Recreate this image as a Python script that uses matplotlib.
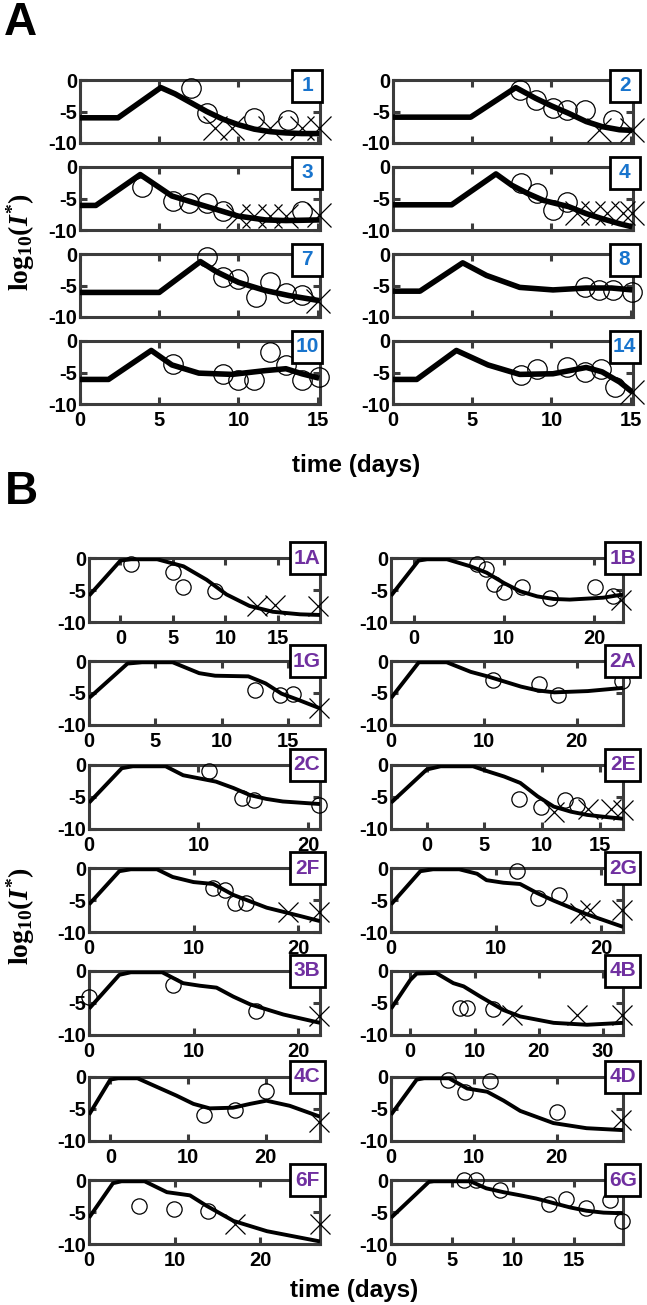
import matplotlib
matplotlib.use("Agg")
import matplotlib.pyplot as plt
from matplotlib.patches import Rectangle

plt.rcParams['font.family'] = 'Liberation Sans'
plt.rcParams['font.weight'] = 'bold'
plt.rcParams['axes.unicode_minus'] = False
plt.rcParams['mathtext.fontset'] = 'custom'
plt.rcParams['mathtext.rm'] = 'Liberation Serif:bold'
plt.rcParams['mathtext.bf'] = 'Liberation Serif:bold'
plt.rcParams['mathtext.it'] = 'Liberation Serif:bold:italic'

W, H = 647, 1305
BLUE = '#1874cd'
PURPLE = '#7030a0'
FRAME = '#3c3c3c'

# ---------------- panel A data (t in days, log10 I*) ----------------
a1_t = [0, 2.4, 5.1, 6, 7, 8, 9, 10, 11, 12, 13, 14, 15.1]
a1_y = [-6, -6, -1.2, -2.2, -3.6, -5.0, -6.2, -7.1, -7.8, -8.2, -8.4, -8.5, -8.5]
a1_ot = [7.0, 8.0, 11.0, 13.1]
a1_oy = [-1.2, -5.3, -6.0, -6.3]
a1_xt = [8.5, 9.6, 12.0, 14.0, 15.1]
a1_xy = [-7.6, -7.6, -7.6, -7.6, -7.6]

a2_t = [0, 4.9, 7.75, 9, 10, 11.1, 12.2, 13.2, 14.3, 15.1]
a2_y = [-5.9, -5.9, -1.2, -2.9, -4.1, -5.3, -6.6, -7.4, -7.9, -8.0]
a2_ot = [8.0, 9.0, 10.1, 11.0, 12.1, 13.9]
a2_oy = [-1.6, -3.2, -4.5, -4.7, -4.7, -6.3]
a2_xt = [13.0, 15.1]
a2_xy = [-7.9, -7.9]

a3_t = [0, 1.0, 3.8, 5.8, 7.9, 10, 11.7, 13, 15.1]
a3_y = [-6.1, -6.1, -1.2, -4.6, -6.2, -7.8, -8.4, -8.5, -8.4]
a3_ot = [3.9, 5.9, 6.9, 8.0, 9.0, 14.0]
a3_oy = [-3.2, -5.4, -5.7, -5.7, -7.0, -7.0]
a3_xt = [10, 11, 12, 13, 15.1]
a3_xy = [-7.8, -7.8, -7.8, -7.8, -7.6]

a4_t = [0, 3.7, 6.5, 7.5, 8.5, 9.5, 11.1, 12.2, 13.2, 14.3, 15.1]
a4_y = [-6.0, -6.0, -1.1, -2.9, -4.2, -5.3, -6.3, -7.4, -8.2, -9.0, -9.5]
a4_ot = [8.1, 9.1, 10.1, 11.0]
a4_oy = [-2.6, -4.2, -6.8, -5.5]
a4_xt = [11.6, 12.6, 13.5, 14.5, 15.1]
a4_xy = [-7.3, -7.3, -7.3, -7.3, -7.3]

a7_t = [0, 5.0, 7.6, 8.6, 10, 11.7, 13.2, 15.1]
a7_y = [-6.1, -6.1, -1.2, -2.8, -4.5, -5.8, -6.6, -7.4]
a7_ot = [8.0, 9.0, 10.0, 11.1, 12.0, 13.0, 14.0]
a7_oy = [-0.4, -3.7, -3.9, -6.8, -4.5, -6.2, -6.5]
a7_xt = [15.0]
a7_xy = [-7.4]

a8_t = [0, 1.7, 4.4, 5.9, 8, 10.1, 12.2, 13.8, 15.1]
a8_y = [-5.9, -5.9, -1.4, -3.4, -5.3, -5.7, -5.4, -5.4, -5.7]
a8_ot = [12.1, 13.0, 13.9, 15.1]
a8_oy = [-5.3, -5.7, -5.7, -6.1]
a8_xt = []
a8_xy = []

a10_t = [0, 1.8, 4.5, 5.8, 7.5, 9.6, 11.7, 13, 14, 15.1]
a10_y = [-6.1, -6.1, -1.5, -3.8, -5.1, -5.3, -4.7, -4.4, -5.2, -5.9]
a10_ot = [5.9, 9.0, 10.0, 11.0, 12.0, 13.0, 14.0, 15.1]
a10_oy = [-3.6, -5.3, -6.2, -6.2, -1.7, -3.8, -6.2, -5.7]
a10_xt = []
a10_xy = []

a14_t = [0, 1.5, 4.0, 6, 8, 10.1, 12.2, 13.2, 14.3, 15.1]
a14_y = [-6.1, -6.1, -1.5, -3.8, -5.3, -5.2, -4.2, -4.9, -6.5, -8.1]
a14_ot = [8.1, 9.1, 11.0, 12.1, 13.1, 14.0]
a14_oy = [-5.4, -4.4, -4.1, -4.9, -4.4, -7.3]
a14_xt = [15.1]
a14_xy = [-8.1]

# ---------------- panel B data ----------------
b1a_t = [-3, 0, 1, 3.5, 6, 8.2, 10.1, 12.3, 14.5, 17.1, 19]
b1a_y = [-5.9, -0.4, -0.2, -0.2, -1.3, -3.4, -5.7, -7.5, -8.4, -8.8, -8.9]
b1a_ot = [1.0, 5.0, 6.0, 9.0]
b1a_oy = [-0.9, -2.2, -4.6, -5.1]
b1a_xt = [13.0, 14.7, 18.8]
b1a_xy = [-7.5, -7.3, -7.5]

b1b_t = [-2.5, 0.55, 1.5, 3.7, 6.3, 8.1, 10, 11.8, 13.7, 15.5, 17.3, 21, 23.2]
b1b_y = [-5.9, -0.4, -0.2, -0.2, -1.3, -2.3, -3.9, -5.2, -6.0, -6.4, -6.5, -6.2, -5.7]
b1b_ot = [7.0, 8.0, 8.9, 10.0, 12.0, 15.1, 20.1, 22.1]
b1b_oy = [-1.0, -1.7, -4.1, -5.3, -4.5, -6.2, -4.5, -5.9]
b1b_xt = [23.0]
b1b_xy = [-6.5]

b1g_t = [0, 2.9, 4, 6.3, 8.3, 9.5, 12, 13.3, 14.5, 15.8, 17.4]
b1g_y = [-5.8, -0.4, -0.2, -0.2, -1.9, -2.3, -2.4, -3.5, -5.1, -6.1, -7.4]
b1g_ot = [12.5, 14.4, 15.4]
b1g_oy = [-4.5, -5.3, -5.1]
b1g_xt = [17.3]
b1g_xy = [-7.4]

b2a_t = [0, 3.0, 6.0, 8.6, 10.4, 12.2, 14, 15.8, 17.6, 21.2, 25]
b2a_y = [-5.8, -0.2, -0.2, -1.7, -2.4, -3.2, -4.0, -4.6, -4.9, -4.7, -4.2]
b2a_ot = [11.0, 15.9, 18.0, 24.9]
b2a_oy = [-2.9, -3.6, -5.3, -3.1]
b2a_xt = []
b2a_xy = []

b2c_t = [0, 3.0, 4, 7, 8.6, 10.1, 11.6, 13.2, 14.7, 16.2, 17.7, 21.1]
b2c_y = [-5.9, -0.5, -0.2, -0.2, -1.6, -2.1, -2.6, -3.6, -4.7, -5.3, -5.7, -6.1]
b2c_ot = [11.0, 14.0, 15.1, 21.0]
b2c_oy = [-0.9, -5.2, -5.4, -6.2]
b2c_xt = []
b2c_xy = []

b2e_t = [-3.1, 0, 1.2, 4, 5.3, 6.7, 8.1, 9.6, 11.0, 12.5, 13.9, 15.4, 17.0]
b2e_y = [-5.9, -0.7, -0.2, -0.2, -1.0, -1.8, -2.8, -4.9, -6.5, -7.3, -7.8, -8.1, -8.4]
b2e_ot = [8.0, 9.9, 12.0, 13.0]
b2e_oy = [-5.3, -6.5, -5.4, -6.2]
b2e_xt = [11.0, 14.0, 16.0, 17.0]
b2e_xy = [-7.3, -6.8, -6.8, -7.0]

b2f_t = [0, 2.9, 4, 6.5, 8, 10, 11.9, 13.8, 17, 20.2, 22.1]
b2f_y = [-5.7, -0.5, -0.2, -0.2, -1.4, -2.2, -2.5, -4.2, -6.2, -7.5, -8.3]
b2f_ot = [11.9, 13.0, 14.0, 15.0]
b2f_oy = [-3.2, -3.4, -5.5, -5.5]
b2f_xt = [19.0, 22.0]
b2f_xy = [-6.8, -6.8]

b2g_t = [0, 2.8, 4, 6.5, 8.2, 9.1, 10.7, 12.3, 13.9, 15.5, 18.6, 22.1]
b2g_y = [-5.7, -0.5, -0.2, -0.2, -0.9, -1.9, -2.3, -2.5, -3.9, -5.1, -7.2, -9.2]
b2g_ot = [12.0, 14.0, 16.0]
b2g_oy = [-0.5, -4.7, -4.2]
b2g_xt = [18.0, 19.0, 22.0]
b2g_xy = [-7.0, -6.5, -6.5]

b3b_t = [0, 2.9, 4, 7, 9, 10.6, 12.2, 13.8, 15.4, 18.6, 22.1]
b3b_y = [-5.9, -0.6, -0.2, -0.2, -1.9, -2.3, -2.6, -4.0, -5.2, -6.8, -8.1]
b3b_ot = [0.0, 8.0, 16.0]
b3b_oy = [-4.1, -2.2, -6.2]
b3b_xt = [22.0]
b3b_xy = [-7.1]

b4b_t = [-3, 0, 1, 4, 6.7, 8.3, 10.9, 14.5, 17.1, 22.3, 27.5, 33.1]
b4b_y = [-5.9, -1.4, -0.4, -0.3, -1.9, -2.4, -4.0, -6.1, -7.1, -8.1, -8.4, -8.1]
b4b_ot = [7.8, 8.8, 12.9]
b4b_oy = [-5.8, -5.8, -6.0]
b4b_xt = [15.8, 25.9, 32.9]
b4b_xy = [-6.8, -6.8, -6.8]

b4c_t = [-2.75, 0, 1, 3.5, 5.9, 8.5, 10.7, 12.8, 15.8, 18, 20.1, 23.1, 27]
b4c_y = [-5.9, -0.4, -0.2, -0.2, -1.5, -2.9, -4.2, -4.9, -4.8, -4.2, -3.7, -4.5, -6.2]
b4c_ot = [12.0, 16.0, 20.0]
b4c_oy = [-5.9, -5.1, -2.2]
b4c_xt = [26.9]
b4c_xy = [-7.0]

b4d_t = [0, 3.1, 4, 7, 9.2, 11.6, 13.6, 15.6, 19.6, 23.6, 28]
b4d_y = [-5.9, -0.4, -0.2, -0.2, -1.8, -2.3, -3.7, -5.3, -7.2, -8.0, -8.3]
b4d_ot = [6.9, 8.9, 12.0, 20.0]
b4d_oy = [-0.4, -2.3, -0.6, -5.5]
b4d_xt = [27.8]
b4d_xy = [-6.7]

b6f_t = [0, 2.8, 3.8, 6.5, 9.1, 11.8, 13.7, 16.9, 20.8, 27]
b6f_y = [-5.9, -0.5, -0.2, -0.2, -1.9, -2.4, -4.0, -6.4, -8.0, -9.6]
b6f_ot = [5.9, 9.9, 13.9]
b6f_oy = [-4.1, -4.5, -4.9]
b6f_xt = [17.1, 27.0]
b6f_xy = [-6.9, -6.9]

b6g_t = [0, 3.1, 3.5, 6.5, 7.8, 9.2, 10.6, 11.9, 13.3, 14.7, 16, 17.4, 19]
b6g_y = [-5.9, -0.3, -0.2, -0.2, -1.3, -1.9, -2.4, -2.9, -3.6, -4.3, -4.8, -5.1, -5.2]
b6g_ot = [6.0, 7.0, 8.9, 12.9, 14.3, 16.0, 17.9, 18.9]
b6g_oy = [0.0, 0.0, -1.6, -3.7, -2.9, -4.3, -3.1, -6.4]
b6g_xt = []
b6g_xy = []

yticks = [-10, -5, 0]

fig = plt.figure(figsize=(W / 100, H / 100), dpi=100)


def px_axes(x0, y0, x1, y1):
    return fig.add_axes([x0 / W, 1 - y1 / H, (x1 - x0) / W, (y1 - y0) / H])


def draw_panel(ax, t, y, ot, oy, xt, xy, label, color, xlim, xticks,
               show_xlabels, lw, ms_o, ms_x, box, box_w, box_h):
    ax.plot(ot, oy, 'o', mfc='none', mec='black', ms=ms_o, mew=0.9, clip_on=False, zorder=3)
    ax.plot(xt, xy, 'x', color='black', ms=ms_x, mew=0.9, clip_on=False, zorder=3)
    ax.plot(t, y, '-', color='black', lw=lw, solid_capstyle='butt', zorder=4)
    ax.set_xlim(*xlim)
    ax.set_ylim(-10, 0)
    ax.set_xticks(xticks)
    ax.set_yticks(yticks)
    ax.set_yticklabels([str(v) for v in yticks])
    if not show_xlabels:
        ax.set_xticklabels([])
    for s in ax.spines.values():
        s.set_color(FRAME)
        s.set_linewidth(2.2)
    ax.tick_params(direction='in', top=True, right=True, length=5, width=2.2,
                   color=FRAME, labelsize=14.5, pad=2)
    ax.tick_params(axis='x', pad=5)
    pos = ax.get_position()
    aw = pos.width * W
    ah = pos.height * H
    bx, by = box
    w = box_w / aw
    h = box_h / ah
    ax.add_patch(Rectangle((bx - w / 2, by - h / 2), w, h, transform=ax.transAxes,
                           fc='white', ec='black', lw=2, clip_on=False, zorder=6))
    ax.text(bx, by, label, transform=ax.transAxes, ha='center', va='center',
            color=color, fontsize=15, fontweight='bold', zorder=7)


# ---------------- panel A ----------------
a_left = [('1', a1_t, a1_y, a1_ot, a1_oy, a1_xt, a1_xy),
          ('3', a3_t, a3_y, a3_ot, a3_oy, a3_xt, a3_xy),
          ('7', a7_t, a7_y, a7_ot, a7_oy, a7_xt, a7_xy),
          ('10', a10_t, a10_y, a10_ot, a10_oy, a10_xt, a10_xy)]
a_right = [('2', a2_t, a2_y, a2_ot, a2_oy, a2_xt, a2_xy),
           ('4', a4_t, a4_y, a4_ot, a4_oy, a4_xt, a4_xy),
           ('8', a8_t, a8_y, a8_ot, a8_oy, a8_xt, a8_xy),
           ('14', a14_t, a14_y, a14_ot, a14_oy, a14_xt, a14_xy)]
a_tops = [80, 167, 254, 341]
for col, (x0, x1, bxf) in enumerate([(80, 320, 0.946), (393, 633, 0.965)]):
    panels = a_left if col == 0 else a_right
    for i, (lab, t, y, ot, oy, xt, xy) in enumerate(panels):
        ax = px_axes(x0, a_tops[i], x1, a_tops[i] + 63)
        draw_panel(ax, t, y, ot, oy, xt, xy, lab, BLUE, (0, 15.15), [0, 5, 10, 15],
                   i == 3, 4.0, 14, 17, (bxf, 0.905), 30, 32)

fig.text(356 / W, 1 - 466 / H, 'time (days)', ha='center', va='center', fontsize=17.5, fontweight='bold')
fig.text(21 / W, 1 - 242 / H, r'$\mathrm{log}_{10}(\mathit{I}^{*})$',
         ha='center', va='center', rotation=90, fontsize=20)
fig.text(4 / W, 1 - 23 / H, 'A', ha='left', va='center', fontsize=33, fontweight='bold')

# ---------------- panel B ----------------
b_left = [('1A', b1a_t, b1a_y, b1a_ot, b1a_oy, b1a_xt, b1a_xy, (-3, 19), [0, 5, 10, 15]),
          ('1G', b1g_t, b1g_y, b1g_ot, b1g_oy, b1g_xt, b1g_xy, (0, 17.4), [0, 5, 10, 15]),
          ('2C', b2c_t, b2c_y, b2c_ot, b2c_oy, b2c_xt, b2c_xy, (0, 21.1), [0, 10, 20]),
          ('2F', b2f_t, b2f_y, b2f_ot, b2f_oy, b2f_xt, b2f_xy, (0, 22.1), [0, 10, 20]),
          ('3B', b3b_t, b3b_y, b3b_ot, b3b_oy, b3b_xt, b3b_xy, (0, 22.1), [0, 10, 20]),
          ('4C', b4c_t, b4c_y, b4c_ot, b4c_oy, b4c_xt, b4c_xy, (-2.75, 27), [0, 10, 20]),
          ('6F', b6f_t, b6f_y, b6f_ot, b6f_oy, b6f_xt, b6f_xy, (0, 27), [0, 10, 20])]
b_right = [('1B', b1b_t, b1b_y, b1b_ot, b1b_oy, b1b_xt, b1b_xy, (-2.5, 23.2), [0, 10, 20]),
           ('2A', b2a_t, b2a_y, b2a_ot, b2a_oy, b2a_xt, b2a_xy, (0, 25), [0, 10, 20]),
           ('2E', b2e_t, b2e_y, b2e_ot, b2e_oy, b2e_xt, b2e_xy, (-3.1, 17.0), [0, 5, 10, 15]),
           ('2G', b2g_t, b2g_y, b2g_ot, b2g_oy, b2g_xt, b2g_xy, (0, 22.1), [0, 10, 20]),
           ('4B', b4b_t, b4b_y, b4b_ot, b4b_oy, b4b_xt, b4b_xy, (-3, 33.1), [0, 10, 20, 30]),
           ('4D', b4d_t, b4d_y, b4d_ot, b4d_oy, b4d_xt, b4d_xy, (0, 28), [0, 10, 20]),
           ('6G', b6g_t, b6g_y, b6g_ot, b6g_oy, b6g_xt, b6g_xy, (0, 19), [0, 5, 10, 15])]
b_tops = [558, 661, 765, 868, 971, 1077, 1180]
for col, (x0, x1, bxf) in enumerate([(89, 320, 0.944), (391, 623, 1.0)]):
    panels = b_left if col == 0 else b_right
    for i, (lab, t, y, ot, oy, xt, xy, xl, xtk) in enumerate(panels):
        ax = px_axes(x0, b_tops[i], x1, b_tops[i] + 64)
        draw_panel(ax, t, y, ot, oy, xt, xy, lab, PURPLE, xl, xtk,
                   True, 2.8, 11, 14, (bxf, 1.0), 35, 32)

fig.text(354 / W, 1 - 1290 / H, 'time (days)', ha='center', va='center', fontsize=17.5, fontweight='bold')
fig.text(21 / W, 1 - 916 / H, r'$\mathrm{log}_{10}(\mathit{I}^{*})$',
         ha='center', va='center', rotation=90, fontsize=20)
fig.text(5 / W, 1 - 492 / H, 'B', ha='left', va='center', fontsize=33, fontweight='bold')

fig.savefig('out.png', dpi=100)
